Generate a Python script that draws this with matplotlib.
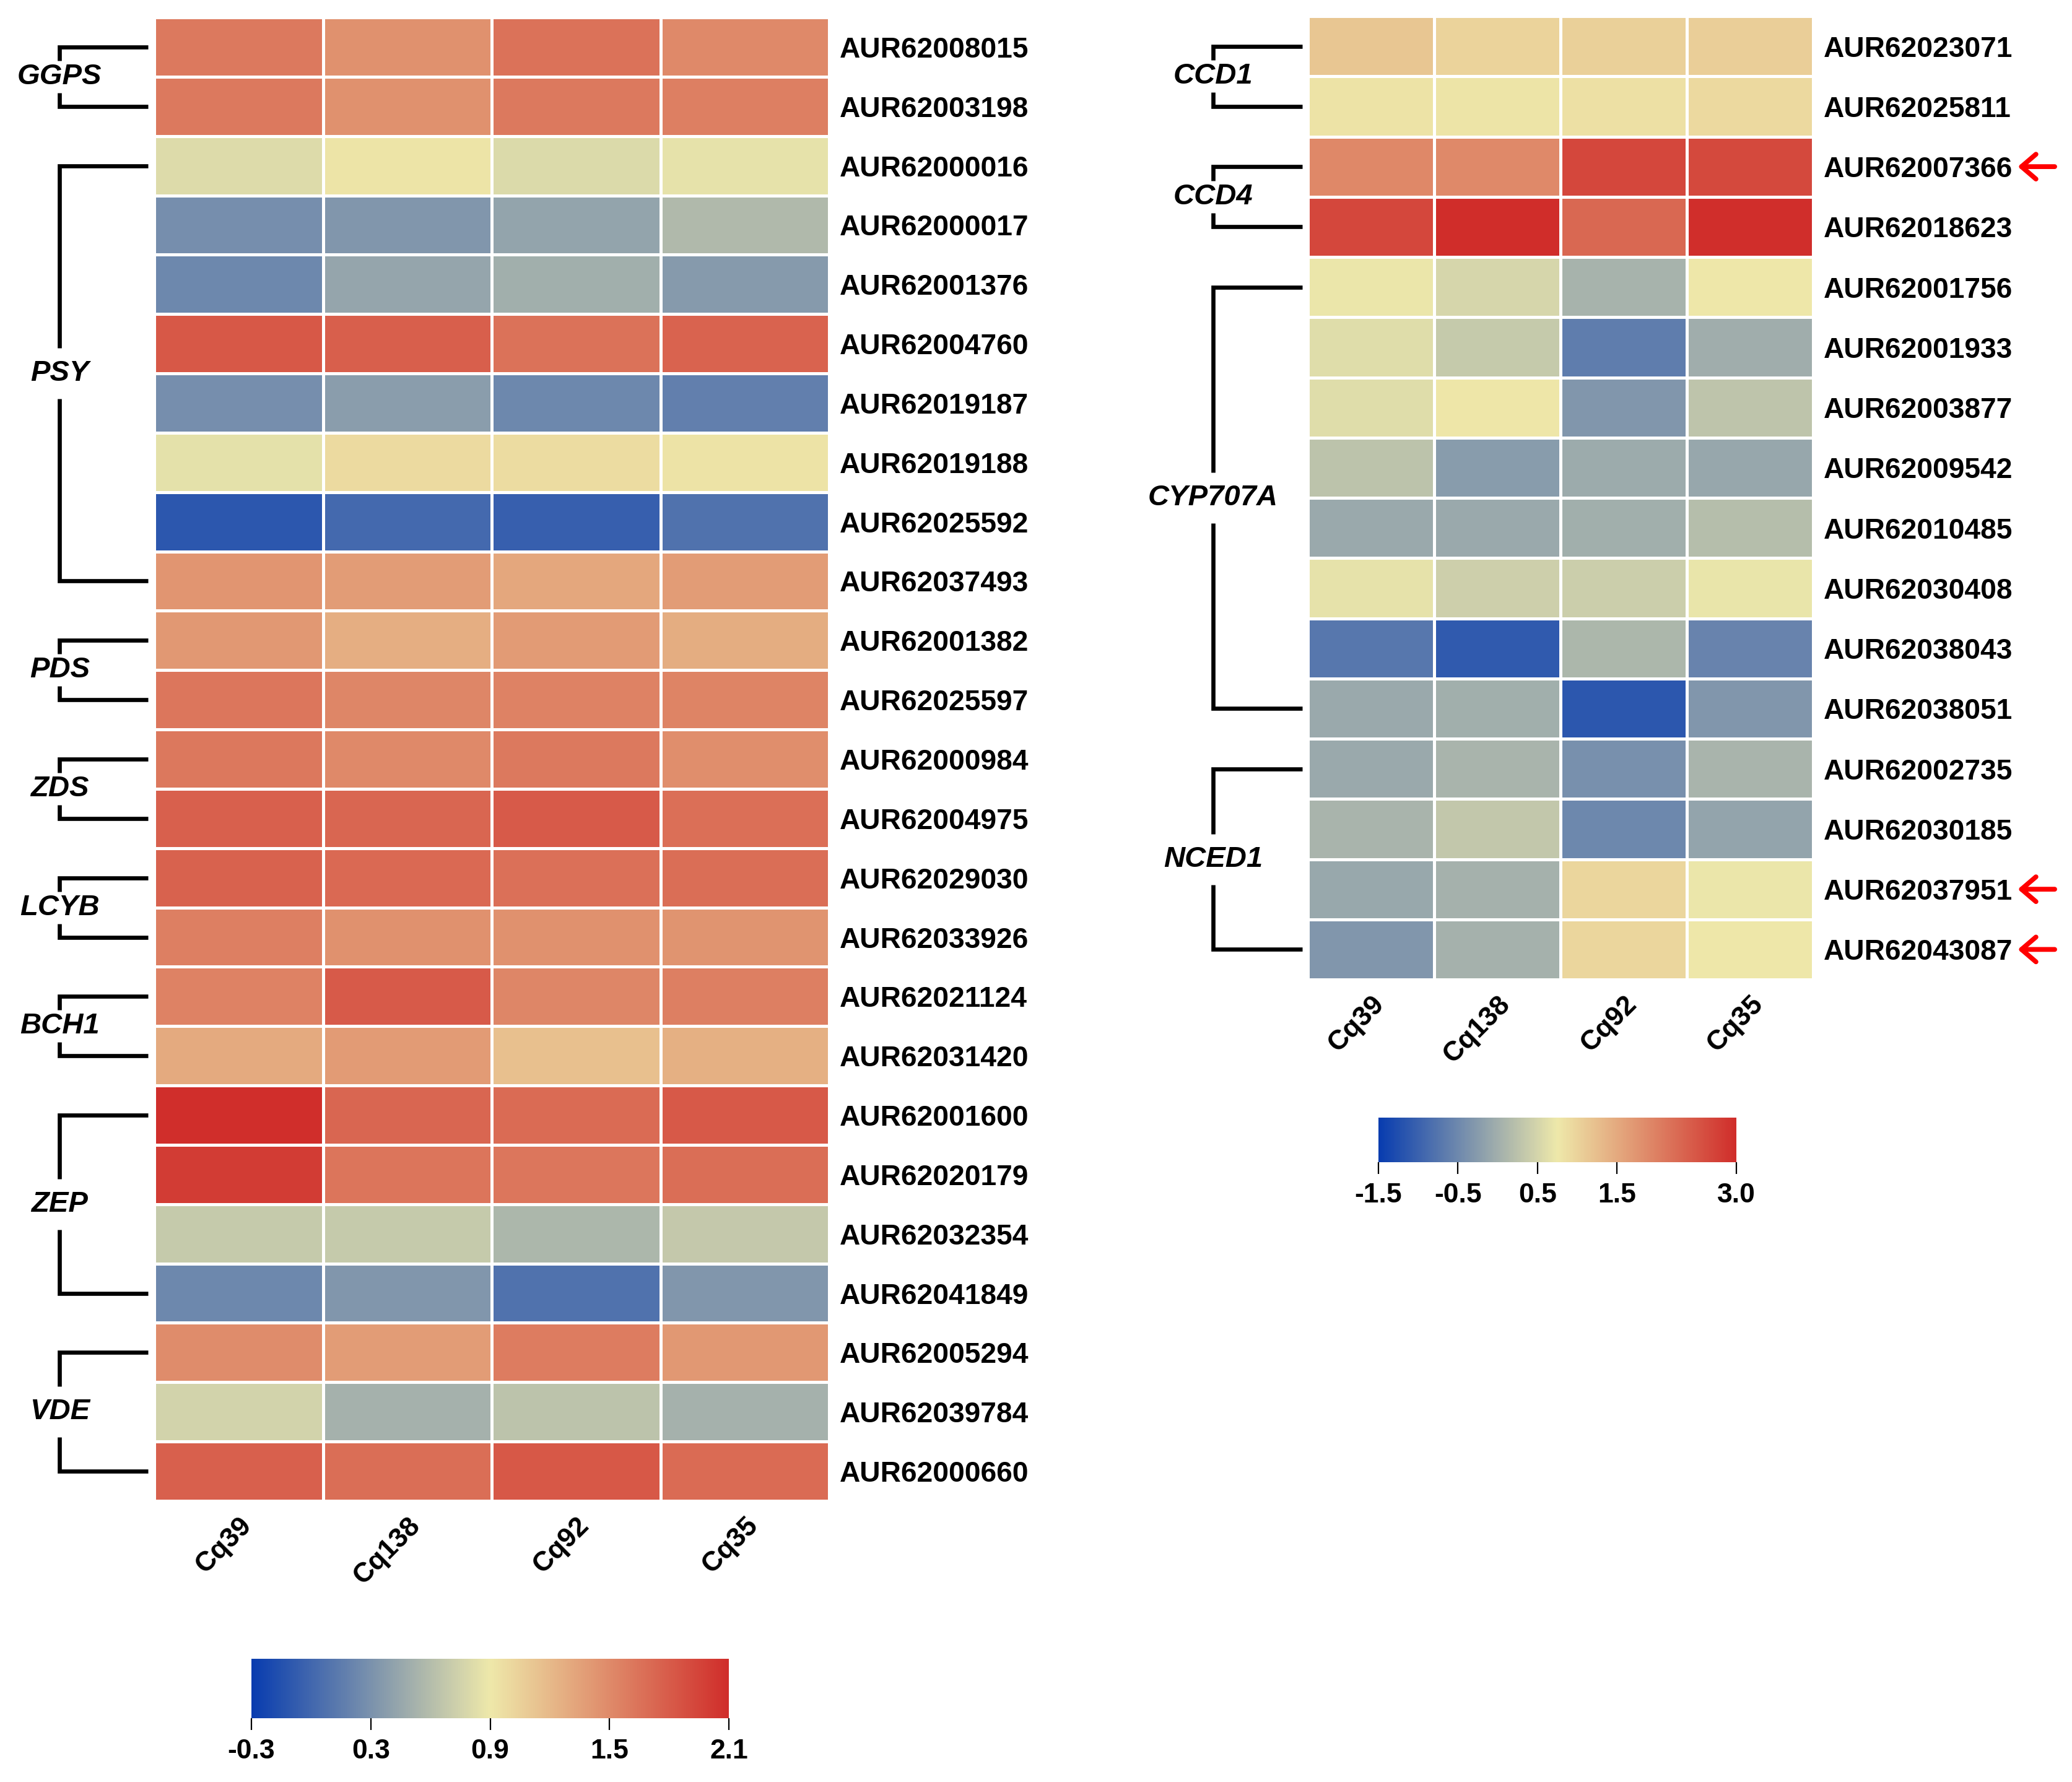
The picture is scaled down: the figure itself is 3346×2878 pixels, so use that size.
import numpy as np
import matplotlib
matplotlib.use("Agg")
import matplotlib.pyplot as plt
from matplotlib.colors import LinearSegmentedColormap

plt.rcParams['font.family'] = ['Liberation Sans', 'DejaVu Sans']
plt.rcParams['font.weight'] = 'bold'

# samples (columns), shared by both heatmaps
samples = ['Cq39', 'Cq138', 'Cq92', 'Cq35']

# left panel: carotenoid biosynthesis genes
left_genes = ['AUR62008015', 'AUR62003198', 'AUR62000016', 'AUR62000017', 'AUR62001376',
              'AUR62004760', 'AUR62019187', 'AUR62019188', 'AUR62025592', 'AUR62037493',
              'AUR62001382', 'AUR62025597', 'AUR62000984', 'AUR62004975', 'AUR62029030',
              'AUR62033926', 'AUR62021124', 'AUR62031420', 'AUR62001600', 'AUR62020179',
              'AUR62032354', 'AUR62041849', 'AUR62005294', 'AUR62039784', 'AUR62000660']
left_groups = ['GGPS', 'PSY', 'PDS', 'ZDS', 'LCYB', 'BCH1', 'ZEP', 'VDE']
left_group_sizes = [2, 8, 2, 2, 2, 2, 4, 3]
left_values = [
    [1.61, 1.46, 1.65, 1.50],
    [1.61, 1.46, 1.61, 1.57],
    [0.81, 0.92, 0.80, 0.86],
    [0.28, 0.33, 0.43, 0.58],
    [0.23, 0.44, 0.50, 0.36],
    [1.82, 1.78, 1.65, 1.75],
    [0.28, 0.38, 0.23, 0.17],
    [0.85, 0.99, 0.98, 0.93],
    [-0.11, 0.01, -0.05, 0.08],
    [1.43, 1.38, 1.32, 1.38],
    [1.41, 1.27, 1.39, 1.28],
    [1.63, 1.52, 1.55, 1.54],
    [1.62, 1.50, 1.61, 1.48],
    [1.77, 1.73, 1.80, 1.67],
    [1.76, 1.71, 1.66, 1.68],
    [1.57, 1.46, 1.46, 1.44],
    [1.55, 1.80, 1.52, 1.57],
    [1.30, 1.39, 1.16, 1.26],
    [2.09, 1.73, 1.70, 1.81],
    [2.00, 1.64, 1.63, 1.68],
    [0.69, 0.69, 0.56, 0.68],
    [0.23, 0.33, 0.08, 0.33],
    [1.49, 1.38, 1.59, 1.41],
    [0.75, 0.52, 0.64, 0.52],
    [1.77, 1.68, 1.82, 1.70],
]
left_ticks = [-0.3, 0.3, 0.9, 1.5, 2.1]

# right panel: carotenoid cleavage / ABA genes
right_genes = ['AUR62023071', 'AUR62025811', 'AUR62007366', 'AUR62018623', 'AUR62001756',
               'AUR62001933', 'AUR62003877', 'AUR62009542', 'AUR62010485', 'AUR62030408',
               'AUR62038043', 'AUR62038051', 'AUR62002735', 'AUR62030185', 'AUR62037951',
               'AUR62043087']
right_groups = ['CCD1', 'CCD4', 'CYP707A', 'NCED1']
right_group_sizes = [2, 2, 8, 4]
right_values = [
    [1.16, 1.01, 1.04, 1.06],
    [0.82, 0.80, 0.85, 0.94],
    [1.90, 1.88, 2.67, 2.65],
    [2.67, 3.00, 2.29, 2.98],
    [0.72, 0.52, 0.05, 0.76],
    [0.60, 0.36, -0.64, -0.01],
    [0.60, 0.77, -0.31, 0.28],
    [0.26, -0.25, -0.05, -0.11],
    [-0.07, -0.07, 0.01, 0.20],
    [0.67, 0.42, 0.40, 0.71],
    [-0.72, -1.11, 0.10, -0.56],
    [-0.07, 0.01, -1.14, -0.31],
    [-0.07, 0.08, -0.40, 0.08],
    [0.08, 0.32, -0.50, -0.13],
    [-0.09, 0.03, 0.97, 0.72],
    [-0.31, 0.03, 0.97, 0.76],
]
right_ticks = [-1.5, -0.5, 0.5, 1.5, 3.0]
marked_genes = ['AUR62007366', 'AUR62037951', 'AUR62043087']

cmap = LinearSegmentedColormap.from_list('byr', ['#083CAF', '#EEE8AA', '#D02D2A'])

W, H, DPI = 3346, 2878, 200
fig = plt.figure(figsize=(W / DPI, H / DPI), dpi=DPI)


def px_axes(x0, y0, x1, y1):
    # axes from pixel box (top-left origin)
    return fig.add_axes([x0 / W, 1 - y1 / H, (x1 - x0) / W, (y1 - y0) / H])


def draw_heatmap(ax, values, genes, vmin, vmax):
    data = np.array(values)
    mesh = ax.pcolormesh(data, cmap=cmap, vmin=vmin, vmax=vmax,
                         edgecolors='white', linewidth=1.1)
    ax.set_xlim(0, data.shape[1])
    ax.set_ylim(data.shape[0], 0)
    for s in ax.spines.values():
        s.set_visible(False)
    ax.yaxis.tick_right()
    ax.set_yticks(np.arange(len(genes)) + 0.5)
    ax.set_yticklabels(genes, fontsize=16.6, fontweight='bold')
    ax.set_xticks(np.arange(len(samples)) + 0.5)
    ax.set_xticklabels(samples, fontsize=16, fontweight='bold', rotation=45,
                       ha='right', rotation_mode='anchor')
    ax.tick_params(axis='y', length=0, pad=6)
    ax.tick_params(axis='x', length=0, pad=7)
    return mesh


def draw_groups(ax, groups, sizes, x_line, x_end, row_px):
    start = 0
    for name, n in zip(groups, sizes):
        top = start + 0.5
        bot = start + n - 0.5
        mid = (top + bot) / 2
        gap = (52 if n == 2 else 82) / row_px / 2
        ax.plot([x_end, x_line, x_line], [top, top, mid - gap], color='black',
                lw=2.4, clip_on=False, solid_joinstyle='miter', solid_capstyle='butt')
        ax.plot([x_line, x_line, x_end], [mid + gap, bot, bot], color='black',
                lw=2.4, clip_on=False, solid_joinstyle='miter', solid_capstyle='butt')
        ax.text(x_line, mid, name, fontsize=17, fontweight='bold', style='italic',
                ha='center', va='center', clip_on=False)
        start += n


def draw_colorbar(mesh, cax, ticks):
    cb = fig.colorbar(mesh, cax=cax, orientation='horizontal', ticks=ticks)
    cb.outline.set_visible(False)
    cb.set_ticklabels(['%.1f' % t for t in ticks])
    cax.tick_params(length=7, width=0.8, labelsize=16, pad=5)
    for t in cax.get_xticklabels():
        t.set_fontweight('bold')
    return cb


# left heatmap
ax_l = px_axes(249, 28, 1339, 2424)
mesh_l = draw_heatmap(ax_l, left_values, left_genes, left_ticks[0], left_ticks[-1])
draw_groups(ax_l, left_groups, left_group_sizes, -0.56, -0.035, 2396 / 25)
cax_l = px_axes(406, 2679, 1177, 2775)
draw_colorbar(mesh_l, cax_l, left_ticks)

# right heatmap
ax_r = px_axes(2112, 26, 2928, 1582)
mesh_r = draw_heatmap(ax_r, right_values, right_genes, right_ticks[0], right_ticks[-1])
draw_groups(ax_r, right_groups, right_group_sizes, -0.75, -0.045, 1556 / 16)
cax_r = px_axes(2226, 1805, 2804, 1877)
draw_colorbar(mesh_r, cax_r, right_ticks)

# red arrows marking selected genes
for g in marked_genes:
    y = right_genes.index(g) + 0.5
    ax_r.annotate('', xy=(1.405, y), xytext=(1.478, y),
                  xycoords=('axes fraction', 'data'), textcoords=('axes fraction', 'data'),
                  arrowprops=dict(arrowstyle='->, head_length=0.42, head_width=0.36',
                                  color='red', lw=2.8, mutation_scale=20,
                                  shrinkA=0, shrinkB=0))

fig.savefig('out.png', dpi=DPI, facecolor='white')
